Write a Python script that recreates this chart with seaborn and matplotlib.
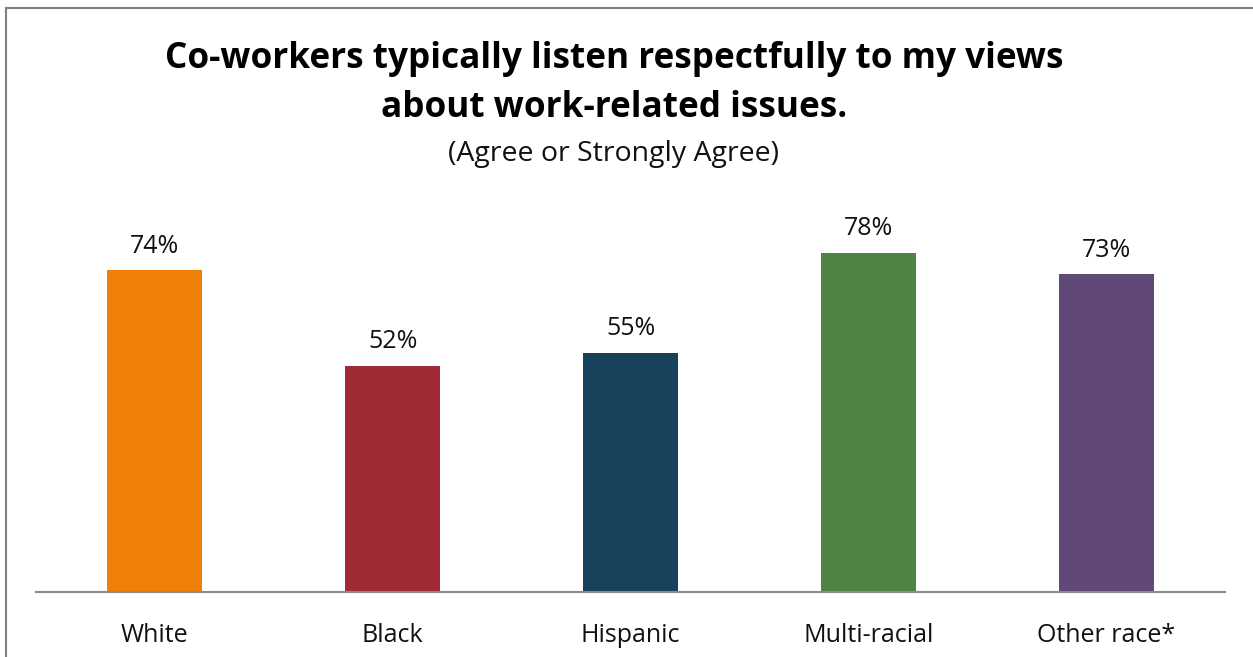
import matplotlib
matplotlib.use('Agg')
import matplotlib.pyplot as plt
import seaborn as sns
import pandas as pd
from matplotlib.patches import Rectangle

# Data
groups = ['White', 'Black', 'Hispanic', 'Multi-racial', 'Other race*']
values = [74, 52, 55, 78, 73]
colors = ['#F07F09', '#A12A37', '#18425B', '#4E8542', '#604878']

df = pd.DataFrame({'group': groups, 'value': values})

sns.set_style('white')
plt.rcParams['font.family'] = ['Open Sans', 'DejaVu Sans']

fig = plt.figure(figsize=(12.53, 6.57), dpi=100)
ax = fig.add_axes([36 / 1253, 65 / 657, 1189 / 1253, 392 / 657])

sns.barplot(data=df, x='group', y='value', hue='group', palette=colors,
            legend=False, width=0.40, saturation=1, linewidth=0, ax=ax)

for i, v in enumerate(values):
    ax.text(i, v + 2.6, f'{v}%', ha='center', va='bottom', fontsize=18, color='#111111')

ax.set_xlim(-0.5, 4.5)
ax.set_ylim(0, 90.1)
ax.set_xlabel('')
ax.set_ylabel('')
ax.set_yticks([])
ax.tick_params(axis='x', length=0, labelsize=18, pad=22, colors='#111111')
for s in ['top', 'right', 'left']:
    ax.spines[s].set_visible(False)
ax.spines['bottom'].set_color('#8c8c8c')
ax.spines['bottom'].set_linewidth(1.5)

# Titles
fig.text(0.49, 1 - 59 / 657, 'Co-workers typically listen respectfully to my views',
         ha='center', va='center', fontsize=25.3, fontweight='bold', color='black')
fig.text(0.49, 1 - 108 / 657, 'about work-related issues.',
         ha='center', va='center', fontsize=25.3, fontweight='bold', color='black')
fig.text(0.49, 1 - 154 / 657, '(Agree or Strongly Agree)',
         ha='center', va='center', fontsize=20.5, color='#111111')

# Frame (left and top visible)
fig.patches.append(Rectangle((6 / 1253, -0.1), 1.2, 1.1 - 8 / 657,
                             transform=fig.transFigure, fill=False,
                             edgecolor='#808080', linewidth=1.5))

fig.savefig('out.png', dpi=100)
